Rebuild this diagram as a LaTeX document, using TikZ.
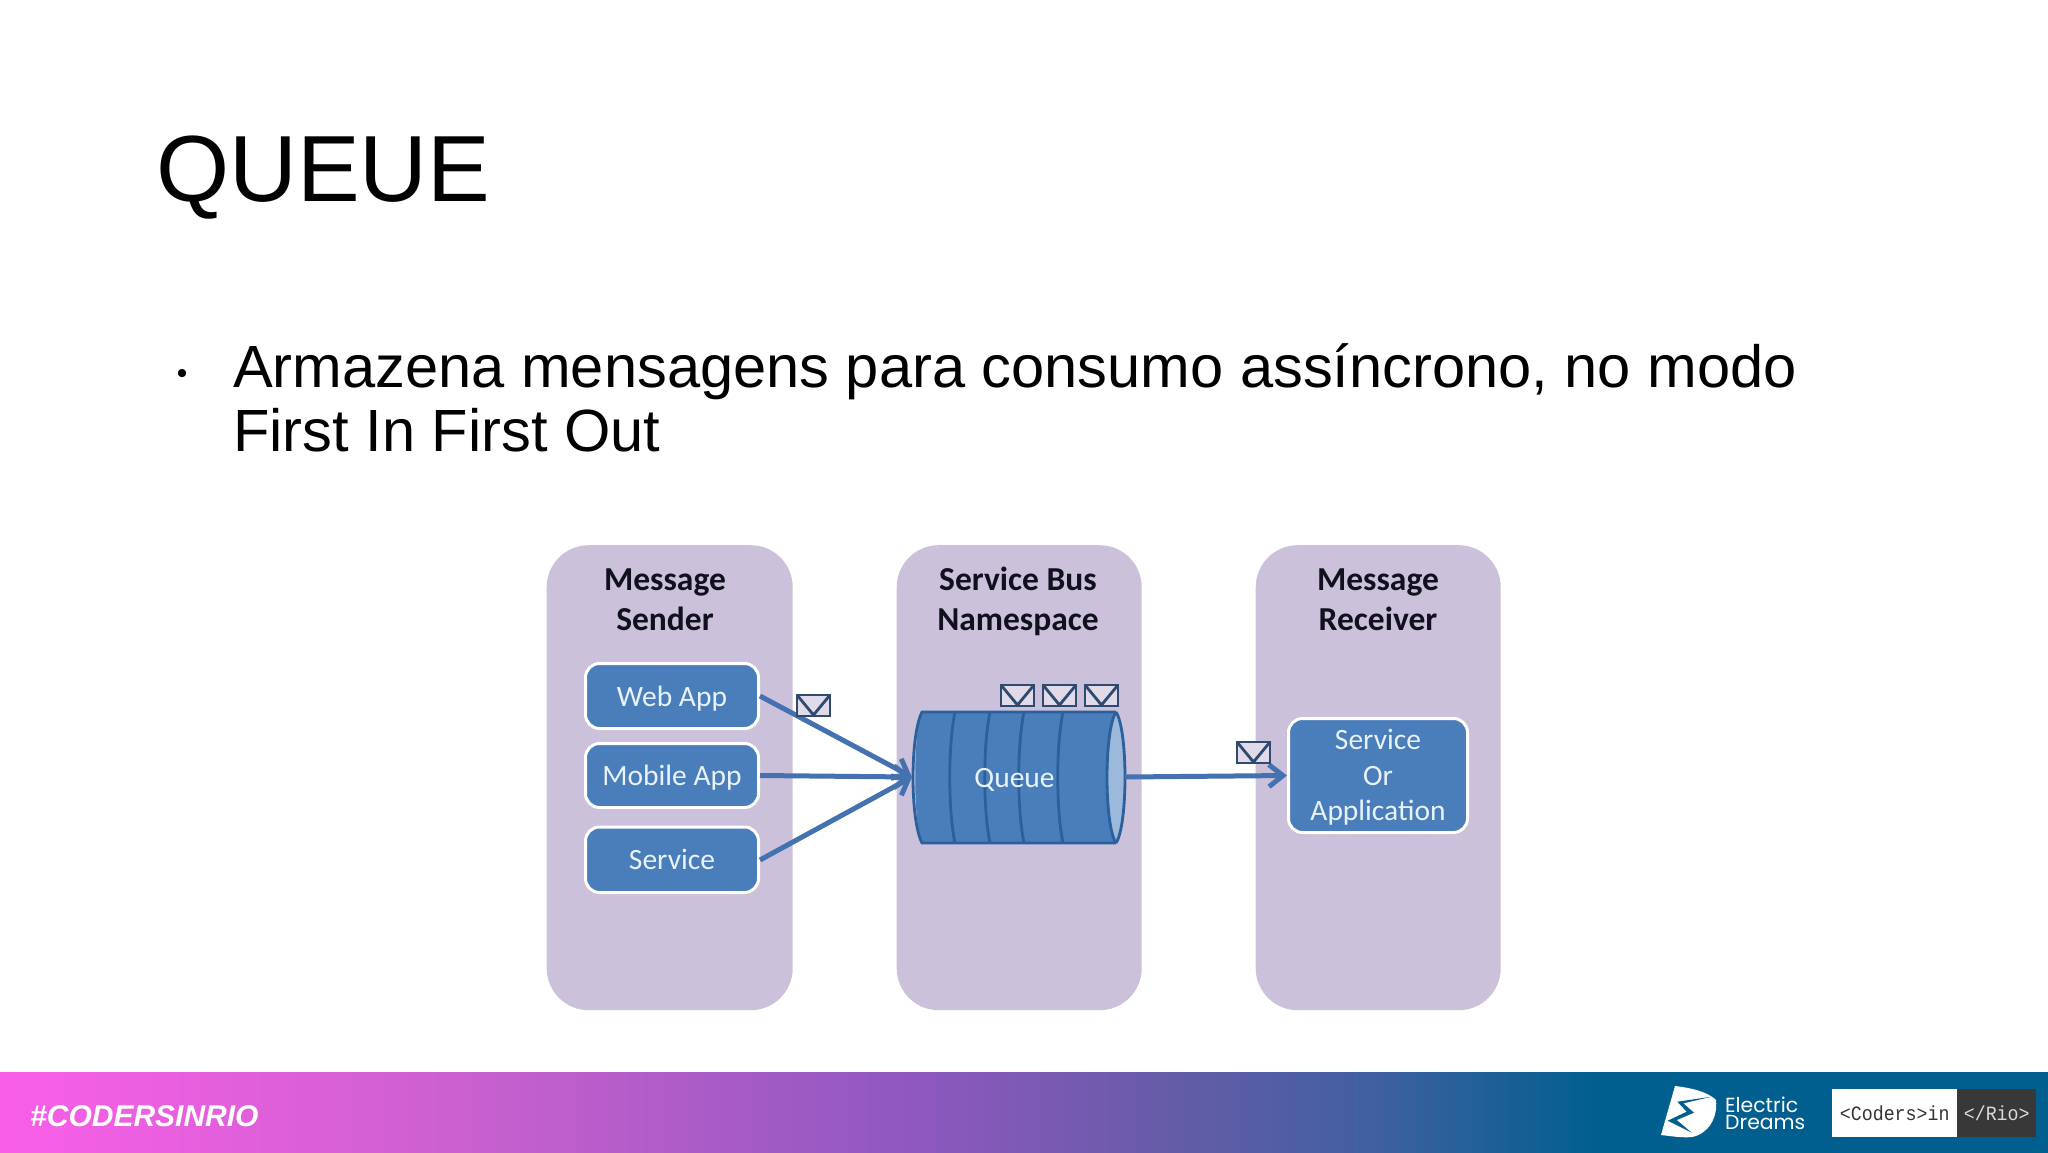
\documentclass[tikz,border=0pt]{standalone}
\usepackage{fontspec}
\setmainfont{Liberation Sans}
\newfontfamily\carl{Carlito}
\newfontfamily\popf{Poppins}
\newfontfamily\monf[FakeStretch=0.9]{Liberation Mono}
\usetikzlibrary{arrows.meta}
\definecolor{panelc}{HTML}{CCC1DA}
\definecolor{boxc}{HTML}{4A7EBB}
\definecolor{queueline}{HTML}{2A609C}
\definecolor{arrowc}{HTML}{4472B0}
\definecolor{envc}{HTML}{2F4A70}
\definecolor{barblue}{HTML}{005F8F}
\definecolor{txtc}{HTML}{E8F2FA}
\definecolor{headc}{HTML}{10101E}
\pgfdeclarehorizontalshading{barshade}{100bp}{
  rgb(0bp)=(0.98,0.37,0.91);
  rgb(25bp)=(0.98,0.37,0.91);
  rgb(36bp)=(0.80,0.376,0.816);
  rgb(47bp)=(0.565,0.345,0.753);
  rgb(53.5bp)=(0.40,0.36,0.66);
  rgb(58.5bp)=(0.25,0.376,0.627);
  rgb(64bp)=(0.0,0.373,0.561);
  rgb(100bp)=(0.0,0.373,0.561)}
\tikzset{
  panel/.style={fill=panelc,rounded corners=42pt,draw=none,anchor=north west,inner sep=0pt},
  head/.style={font=\carl\bfseries\fontsize{33.5}{40}\selectfont,text=headc,align=center,anchor=center},
  appbox/.style={fill=boxc,draw=white,line width=3pt,rounded corners=14pt,inner sep=0pt,anchor=north west,
    text=txtc,font=\carl\fontsize{29.5}{36}\selectfont,align=center},
  flow/.style={draw=arrowc,line width=5pt,-{Straight Barb[length=14pt,width=22pt,line width=5pt]}},
  env/.style={draw=envc,line width=2.8pt,fill=panelc!60!white},
  qline/.style={draw=queueline,line width=2.8pt},
  slidetxt/.style={anchor=base west,inner sep=0pt,align=left}
}
\newcommand{\envel}[2]{%
  \draw[env] (#1,#2) rectangle ++(33,21);
  \draw[envc,line width=2.8pt,line join=miter] (#1,#2) -- ++(16.5,20) -- ++(16.5,-20);}
\newcommand{\lowered}[2]{\raisebox{#1}[\height][\depth]{#2}}
\begin{document}
\begin{tikzpicture}[x=1pt,y=-1pt]
\useasboundingbox (0,0) rectangle (2048,1152);
\fill[white] (0,0) rectangle (2048,1152);

% slide text
\node[slidetxt,font=\fontsize{94}{94}\selectfont] (title) at (156,201) {QUEUE};
\node[slidetxt,font=\fontsize{30}{30}\selectfont] (bullet) at (176.7,383) {•};
\node[slidetxt,font=\fontsize{59.6}{64}\selectfont] (body) at (233,451)
  {Armazena mensagens para consumo assíncrono, no modo\\First In First Out};

% panels
\node[panel,minimum width=246pt,minimum height=465pt] (p1) at (546.5,545) {};
\node[panel,minimum width=245pt,minimum height=465pt] (p2) at (896.5,545) {};
\node[panel,minimum width=245pt,minimum height=465pt] (p3) at (1255.5,545) {};
\node[head] (h1) at (665,600) {Message\\Sender};
\node[head] (h2) at (1018,601) {Service Bus\\Namespace};
\node[head] (h3) at (1378,600) {Message\\Receiver};

% sender boxes
\node[appbox,minimum width=173pt,minimum height=65pt] (web) at (584,662) {\lowered{-2.6pt}{Web App}};
\node[appbox,minimum width=173pt,minimum height=64pt] (mobile) at (584,742) {\lowered{-2.6pt}{Mobile App}};
\node[appbox,minimum width=173pt,minimum height=65.5pt] (service) at (584,825.5) {Service};
\node[appbox,minimum width=179pt,minimum height=114pt,font=\carl\fontsize{29.5}{35.5}\selectfont] (recv) at (1287,717)
  {\lowered{-2.8pt}{\begin{tabular}{@{}c@{}}Service\\Or\\Application\end{tabular}}};

% queue
\path[fill=boxc] (922,712) -- (1116,712) -- (1116,843) -- (922,843)
   .. controls (913,825) and (913,730) .. (922,712) -- cycle;
\fill[boxc!55!white] (1116,777.5) ellipse (8.5 and 65.5);
\draw[qline] (1116,712) -- (922,712) .. controls (910,735) and (910,820) .. (922,843) -- (1116,843);
\draw[qline] (1116,712) .. controls (1128,730) and (1128,825) .. (1116,843);
\draw[qline] (1116,712) .. controls (1104,730) and (1104,825) .. (1116,843);
\foreach \qx in {955,990,1024,1063}
  \draw[qline] (\qx,712) .. controls (\qx-7,745) and (\qx-7,810) .. (\qx,843);
\node[inner sep=0pt,minimum width=212pt,minimum height=131pt,
      text=txtc,font=\carl\fontsize{29.5}{36}\selectfont] (queue) at (1016,780) {\hspace{-3pt}Queue};

% envelopes
\envel{1001}{685}
\envel{1043}{685}
\envel{1085}{685}

% connectors
\coordinate (qin) at (912,777);
\coordinate (wstart) at (760,696);
\coordinate (sstart) at (760,860);
\coordinate (qout) at (1125,777);
\draw[flow] (wstart) -- (qin);
\draw[flow] (mobile.east) -- (qin);
\draw[flow] (sstart) -- (qin);
\draw[flow] (qout) -- (recv.west);

\envel{797}{695}
\envel{1237}{742}

% bottom bar
\shade[shading=barshade] (0,1072) rectangle (2048,1152);
\node[anchor=west,inner sep=0pt,text=white,font=\bfseries\itshape\fontsize{30}{30}\selectfont] (tag) at (30,1116) {\#CODERSINRIO};

% logo
\path[fill=white] (1675,1086) .. controls (1692,1088) and (1708,1092) .. (1716,1100)
   .. controls (1718,1118) and (1708,1134) .. (1692,1137) .. controls (1682,1138) and (1670,1136) .. (1661,1135) -- cycle;
\path[fill=barblue] (1711.7,1096.7) -- (1677.3,1101.7) -- (1686.7,1111.7) -- (1667.7,1120.7) -- (1691.7,1132.7)
   -- (1676.7,1120) -- (1694,1112.7) -- (1683.3,1103.3) -- cycle;
\node[anchor=west,inner sep=0pt,text=white,align=left,font=\popf\fontsize{20.4}{16.8}\selectfont] (el) at (1725,1113.5) {Electric\\Dreams};

% coders badge
\node[fill=white,anchor=north west,inner sep=0pt,minimum width=125pt,minimum height=48pt,
      font=\monf\fontsize{20.3}{22}\selectfont,text=black!80] (coders) at (1832,1089) {<Coders>in};
\node[fill=black!78,anchor=north west,inner sep=0pt,minimum width=79pt,minimum height=48pt,
      font=\monf\fontsize{20.3}{22}\selectfont,text=white!85!black] (rio) at (1957,1089) {</Rio>};
\end{tikzpicture}
\end{document}
